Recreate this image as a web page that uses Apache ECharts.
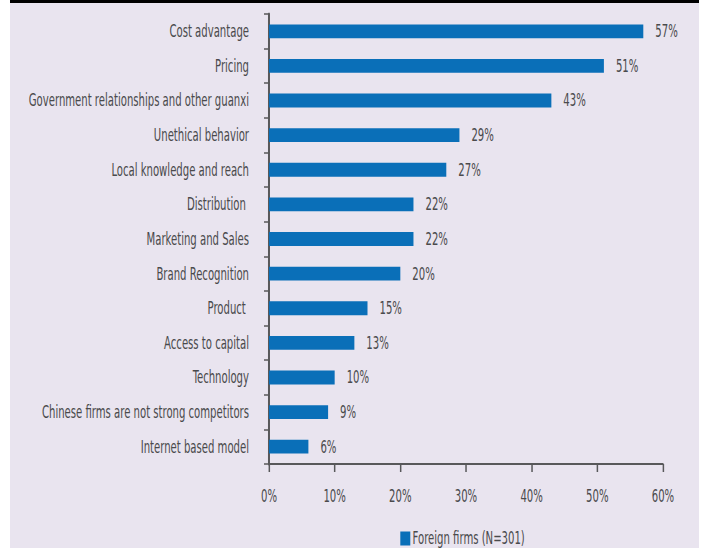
<!DOCTYPE html>
<html><head><meta charset="utf-8">
<script src="https://cdn.jsdelivr.net/npm/echarts@6/dist/echarts.min.js"></script>
<style>
html,body{margin:0;padding:0;background:#fff;overflow:hidden;width:703px;height:548px}
#c{width:1065px;height:548px;transform:scaleX(0.66009);transform-origin:0 0}
</style>
</head><body><div id="c"></div>
<script>
const categories = ["Cost advantage","Pricing","Government relationships and other guanxi","Unethical behavior","Local knowledge and reach","Distribution ","Marketing and Sales","Brand Recognition","Product ","Access to capital","Technology","Chinese firms are not strong competitors","Internet based model"];
const values = [57,51,43,29,27,22,22,20,15,13,10,9,6];
const seriesName = "Foreign firms (N=301)";
const xTicks = [0,10,20,30,40,50,60];

// whole chart is drawn 1/K wider and condensed horizontally by CSS (narrow-font look)
const K = 0.66009;
const X = v => v / K;
const FONT = "'DejaVu Sans Condensed','DejaVu Sans',sans-serif";
const FS = 17;
const TXT = '#4a4a4c';
const AX = '#58585a';
const chart = echarts.init(document.getElementById('c'), null, {renderer:'svg'});
chart.setOption({
  backgroundColor:'#ffffff',
  animation:false,
  graphic:[
    {type:'rect', z:-10, shape:{x:X(10),y:0,width:X(689),height:548}, style:{fill:'#e9e4ef'}},
    {type:'rect', z:-9, shape:{x:X(10),y:0,width:X(689),height:3}, style:{fill:'#000'}}
  ],
  grid:{left:X(269),right:X(40),top:14,bottom:84,containLabel:false,outerBoundsMode:'none'},
  legend:{
    data:[seriesName], left:X(397), top:525, itemWidth:X(10), itemHeight:14, itemGap:X(4),
    icon:'rect', textStyle:{color:TXT,fontFamily:FONT,fontSize:FS,padding:[0,0,0,-X(1)]}
  },
  xAxis:{
    type:'value', min:xTicks[0], max:xTicks[xTicks.length-1], interval:10,
    axisLine:{show:true,lineStyle:{color:AX,width:2}},
    axisTick:{show:true,length:8,lineStyle:{color:AX,width:X(1.5)}},
    splitLine:{show:false},
    axisLabel:{formatter:v=>v+'%',color:TXT,fontFamily:FONT,fontSize:FS,margin:24}
  },
  yAxis:{
    type:'category', data:categories, inverse:true,
    axisLine:{show:true,lineStyle:{color:AX,width:X(2)}},
    axisTick:{show:true,length:X(5),lineStyle:{color:AX,width:1.5}},
    axisLabel:{color:TXT,fontFamily:FONT,fontSize:FS,margin:X(20)}
  },
  series:[{
    name:seriesName, type:'bar', data:values, barCategoryGap:'60%',
    itemStyle:{color:'#0a6fb8'},
    label:{show:true,position:'right',distance:X(12),formatter:p=>p.value+'%',color:TXT,fontFamily:FONT,fontSize:FS}
  }]
});
</script></body></html>
